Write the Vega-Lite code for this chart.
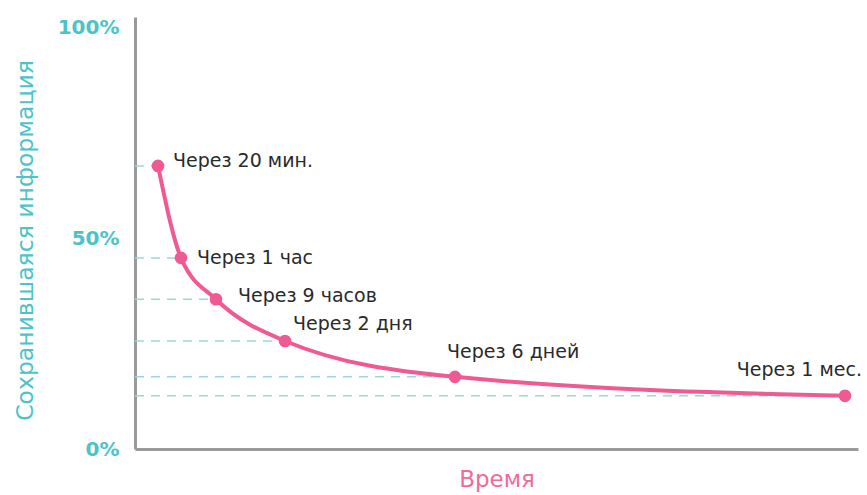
{
  "$schema": "https://vega.github.io/schema/vega-lite/v6.json",
  "autosize": "none",
  "width": 723,
  "height": 432,
  "padding": {"left": 135, "top": 17, "right": 9, "bottom": 46},
  "background": "white",
  "config": {"view": {"stroke": null}, "font": "DejaVu Sans"},
  "data": {"values": [
    {"t": 23, "v": 67.1, "label": "Через 20 мин."},
    {"t": 46, "v": 45.3, "label": "Через 1 час"},
    {"t": 81, "v": 35.5, "label": "Через 9 часов"},
    {"t": 150, "v": 25.6, "label": "Через 2 дня"},
    {"t": 320, "v": 17.1, "label": "Через 6 дней"},
    {"t": 710, "v": 12.6, "label": "Через 1 мес."}
  ]},
  "encoding": {
    "x": {"field": "t", "type": "quantitative", "scale": {"domain": [0, 723], "nice": false, "zero": false},
      "axis": {"title": "Время", "titleColor": "#ee6b9a", "titleFontSize": 23, "titleFontWeight": "normal", "titlePadding": 19, "labels": false, "ticks": false, "grid": false, "domainColor": "#9a9a9a", "domainWidth": 3}},
    "y": {"field": "v", "type": "quantitative", "scale": {"domain": [0, 102.4], "nice": false},
      "axis": {"title": "Сохранившаяся информация", "titleColor": "#4cc3c9", "titleFontSize": 23.5, "titleFontWeight": "normal", "titlePadding": 20, "titleY": 223, "values": [0, 50, 100], "labelExpr": "datum.value + '%'", "labelColor": "#4cc3c9", "labelFontSize": 20, "labelFontWeight": "bold", "labelPadding": 16, "ticks": false, "grid": false, "domainColor": "#9a9a9a", "domainWidth": 3}}
  },
  "layer": [
    {"mark": {"type": "rule", "strokeDash": [9, 7], "color": "#9fd6d8", "strokeWidth": 1.5},
      "encoding": {"x": {"datum": 0}, "x2": {"field": "t"}}},
    {"mark": {"type": "line", "interpolate": "monotone", "color": "#f05a92", "strokeWidth": 4}},
    {"mark": {"type": "point", "filled": true, "color": "#f05a92", "size": 160, "opacity": 1}},
    {"transform": [{"filter": "datum.label == 'Через 20 мин.'"}],
      "mark": {"type": "text", "align": "left", "baseline": "middle", "dx": 15, "dy": -5, "fontSize": 19, "color": "#2a2a2a"},
      "encoding": {"text": {"field": "label"}}},
    {"transform": [{"filter": "datum.label == 'Через 1 час'"}],
      "mark": {"type": "text", "align": "left", "baseline": "middle", "dx": 16, "dy": 0, "fontSize": 19, "color": "#2a2a2a"},
      "encoding": {"text": {"field": "label"}}},
    {"transform": [{"filter": "datum.label == 'Через 9 часов'"}],
      "mark": {"type": "text", "align": "left", "baseline": "middle", "dx": 22, "dy": -3, "fontSize": 19, "color": "#2a2a2a"},
      "encoding": {"text": {"field": "label"}}},
    {"transform": [{"filter": "datum.label == 'Через 2 дня'"}],
      "mark": {"type": "text", "align": "left", "baseline": "middle", "dx": 8, "dy": -17, "fontSize": 19, "color": "#2a2a2a"},
      "encoding": {"text": {"field": "label"}}},
    {"transform": [{"filter": "datum.label == 'Через 6 дней'"}],
      "mark": {"type": "text", "align": "left", "baseline": "middle", "dx": -8, "dy": -25, "fontSize": 19, "color": "#2a2a2a"},
      "encoding": {"text": {"field": "label"}}},
    {"transform": [{"filter": "datum.label == 'Через 1 мес.'"}],
      "mark": {"type": "text", "align": "right", "baseline": "middle", "dx": 17, "dy": -26, "fontSize": 19, "color": "#2a2a2a"},
      "encoding": {"text": {"field": "label"}}}
  ]
}
